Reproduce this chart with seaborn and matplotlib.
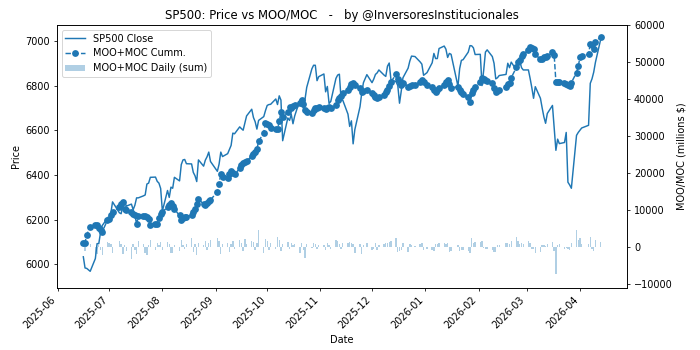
import numpy as np
import pandas as pd
import matplotlib
matplotlib.use('Agg')
import matplotlib.pyplot as plt
import matplotlib.dates as mdates
import seaborn as sns

# trading calendar (NYSE holidays in range)
holidays = ['2025-06-19', '2025-07-04', '2025-09-01', '2025-11-27', '2025-12-25',
            '2026-01-01', '2026-01-19', '2026-02-16', '2026-04-03']
dates = pd.bdate_range('2025-06-16', '2026-04-13', freq='C', holidays=holidays)

# SP500 close, one list per month
close_jun = [6033, 5983, 5981, 5968, 6025, 6092, 6092, 6141, 6173, 6205]
close_jul = [6198, 6227, 6279, 6230, 6226, 6263, 6280, 6260, 6269, 6244, 6264,
             6297, 6297, 6306, 6310, 6359, 6363, 6389, 6390, 6371, 6363, 6339]
close_aug = [6238, 6330, 6299, 6345, 6340, 6389, 6373, 6446, 6467, 6469, 6450,
             6449, 6411, 6396, 6370, 6467, 6439, 6466, 6481, 6502, 6460]
close_sep = [6416, 6448, 6502, 6482, 6495, 6513, 6532, 6587, 6584, 6615, 6607,
             6600, 6632, 6664, 6694, 6657, 6638, 6605, 6644, 6661, 6688]
close_oct = [6711, 6715, 6716, 6740, 6715, 6754, 6735, 6553, 6655, 6644, 6671, 6629,
             6664, 6735, 6735, 6699, 6738, 6792, 6875, 6891, 6891, 6822, 6840]
close_nov = [6852, 6772, 6796, 6720, 6729, 6832, 6847, 6851, 6737, 6734,
             6672, 6617, 6642, 6539, 6603, 6705, 6766, 6813, 6849]
close_dec = [6813, 6829, 6850, 6857, 6870, 6847, 6841, 6887, 6901, 6827, 6817,
             6800, 6721, 6775, 6835, 6878, 6910, 6932, 6930, 6906, 6896, 6846]
close_jan = [6858, 6902, 6944, 6921, 6921, 6966, 6977, 6963, 6926, 6944,
             6940, 6797, 6876, 6913, 6916, 6950, 6979, 6978, 6969, 6939]
close_feb = [6940, 6800, 6870, 6950, 6960, 6930, 6900, 6830, 6835, 6845,
             6850, 6900, 6880, 6905, 6870, 6890, 6910, 6880, 6870]
close_mar = [6870, 6832, 6790, 6743, 6795, 6743, 6700, 6660, 6631, 6675, 6711,
             6608, 6510, 6560, 6540, 6545, 6590, 6367, 6355, 6340, 6577, 6590]
close_apr = [6600, 6610, 6622, 6810, 6830, 6860, 6904, 7005]

# MOO+MOC cumulative (millions $)
cumm_jun = [1000, 1200, 3300, 5500, 5800, 6000, 5000, 4700, 4100, 7200]
cumm_jul = [7500, 8500, 9500, 10700, 11500, 12100, 10200, 10000, 9400, 9000, 8700,
            6100, 8300, 8400, 8300, 8200, 7600, 5800, 6100, 6300, 7800, 8800]
cumm_aug = [9500, 10700, 11300, 11800, 11000, 10200, 8500, 7400, 7800, 8000, 8200,
            8500, 9500, 10200, 11500, 12900, 11600, 11400, 12000, 12500, 12700]
cumm_sep = [14900, 17100, 19800, 19000, 18500, 19800, 20400, 19900, 19600, 21200, 22200,
            22600, 23000, 23100, 24600, 25100, 25600, 26400, 28500, 30900, 33600]
cumm_oct = [33300, 33000, 32200, 32000, 31800, 34000, 36400, 35000, 36500, 37700, 37500, 38000,
            38300, 39000, 39700, 38500, 36900, 36500, 36100, 37000, 37500, 37600, 37700]
cumm_nov = [37500, 37300, 37500, 37700, 37600, 38300, 39700, 40200, 40800, 41500,
            42400, 43200, 44000, 44400, 43800, 43000, 41900, 42200, 42400]
cumm_dec = [41600, 41000, 40500, 40200, 40600, 41000, 41800, 42400, 43500, 44600, 46600,
            45500, 44500, 43800, 44400, 43300, 43500, 43800, 43800, 44500, 45200, 44500]
cumm_jan = [43800, 43300, 42500, 41900, 42500, 43000, 43800, 44500, 45200, 44000,
            43000, 43300, 42500, 41900, 41200, 40500, 39100, 41600, 42400, 43300]
cumm_feb = [44500, 45700, 45500, 45200, 44800, 44400, 43000, 41900, 42200, 42400,
            43300, 44000, 44400, 45700, 48500, 49900, 50500, 51500, 52000]
cumm_mar = [53200, 54000, 53800, 53400, 52000, 50700, 50900, 51200, 51300, 51500, 52600,
            51800, 44600, 44500, 44600, 44200, 44100, 43800, 43500, 44400, 47100, 48800]
cumm_apr = [51200, 51500, 52100, 54800, 54500, 53400, 55400, 56700]

# MOO+MOC daily sum (millions $)
daily_jun = [800, -1200, 1500, 900, -2200, -1800, 600, -900, -2300, 1400]
daily_jul = [1200, 900, -1500, 1600, 800, -1800, 600, -1200, -3200, 700, -800,
             -2000, 1500, 900, -1600, -2200, 500, 1800, -700, 1100, 600, 1300]
daily_aug = [-900, 1400, 700, -1700, -1500, 400, -1000, 1800, 600, -600, 900,
             2300, -1300, 700, -2100, 1200, 500, 1700, -800, 1100, 1900]
daily_sep = [2300, 1600, -1900, 800, 1200, -1400, 900, 1700, -600, 1900, 1100,
             -1000, 2100, 700, 1500, 1300, -800, 1200, 4600, -1700, 2200]
daily_oct = [1500, -900, 1000, -600, 2800, 1800, -1200, 900, 1400, -500, 1100, 600,
             800, -1600, 1200, -800, -2900, 900, -400, 1000, 700, -600, 500]
daily_nov = [600, -700, 1100, 400, -500, 1800, 1500, 900, -600, 1200,
             1000, 1300, 1100, 700, -1500, 800, -1900, 600, 1200]
daily_dec = [-800, -600, 1000, -700, 500, 800, 1200, 1000, 1400, 1600, 2400,
             -1300, -1200, -900, 1100, -1400, 700, 600, 300, 900, 1100, -900]
daily_jan = [-600, -700, -1100, 800, 900, 1200, 1100, 900, 1000, -1400,
             -1200, 500, -1100, -900, -800, -1000, -1600, 2500, 1200, 1300]
daily_feb = [1400, 1500, -400, -600, -500, -700, -1400, -1300, 500, 400,
             1200, 1100, 800, 1600, 2600, 1500, 800, 1200, 900]
daily_mar = [1500, 1200, -500, -600, -1500, -1300, 500, 600, 300, 800, 1400,
             -1000, -7300, 500, 800, -600, -400, -500, -700, 1200, 4500, 2000]
daily_apr = [2400, 800, 700, 2800, -500, -1200, 2000, 1300]

close = (close_jun + close_jul + close_aug + close_sep + close_oct + close_nov
         + close_dec + close_jan + close_feb + close_mar + close_apr)
cumm = (cumm_jun + cumm_jul + cumm_aug + cumm_sep + cumm_oct + cumm_nov
        + cumm_dec + cumm_jan + cumm_feb + cumm_mar + cumm_apr)
daily = (daily_jun + daily_jul + daily_aug + daily_sep + daily_oct + daily_nov
         + daily_dec + daily_jan + daily_feb + daily_mar + daily_apr)
assert len(dates) == len(close) == len(cumm) == len(daily), (len(dates), len(close), len(cumm), len(daily))

df = pd.DataFrame({'Date': dates, 'Close': close, 'Cumm': cumm, 'Daily': daily})

fig, ax = plt.subplots(figsize=(10, 5), dpi=70)
ax2 = ax.twinx()

bars = ax2.bar(df['Date'], df['Daily'], width=0.8, color='tab:blue', alpha=0.35)
sns.lineplot(data=df, x='Date', y='Cumm', ax=ax2, color='tab:blue', linestyle='--',
             marker='o', markersize=7, markeredgewidth=0, linewidth=1.5)
sns.lineplot(data=df, x='Date', y='Close', ax=ax, color='tab:blue', linewidth=1.5)

ax.set_ylim(5893, 7072)
ax2.set_ylim(-11100, 60000)

ax.xaxis.set_major_locator(mdates.MonthLocator())
ax.xaxis.set_major_formatter(mdates.DateFormatter('%Y-%m'))
plt.setp(ax.get_xticklabels(), rotation=45, ha='right')

ax.set_xlabel('Date')
ax.set_ylabel('Price')
ax2.set_ylabel('MOO/MOC (millions $)')
ax.set_title('SP500: Price vs MOO/MOC   -   by @InversoresInstitucionales')

handles = [ax.get_lines()[0], ax2.get_lines()[0], bars]
labels = ['SP500 Close', 'MOO+MOC Cumm.', 'MOO+MOC Daily (sum)']
ax2.legend(handles, labels, loc='upper left')

fig.subplots_adjust(left=0.081, right=0.896, top=0.929, bottom=0.177)
fig.savefig('out.png', dpi=70)
plt.close()
